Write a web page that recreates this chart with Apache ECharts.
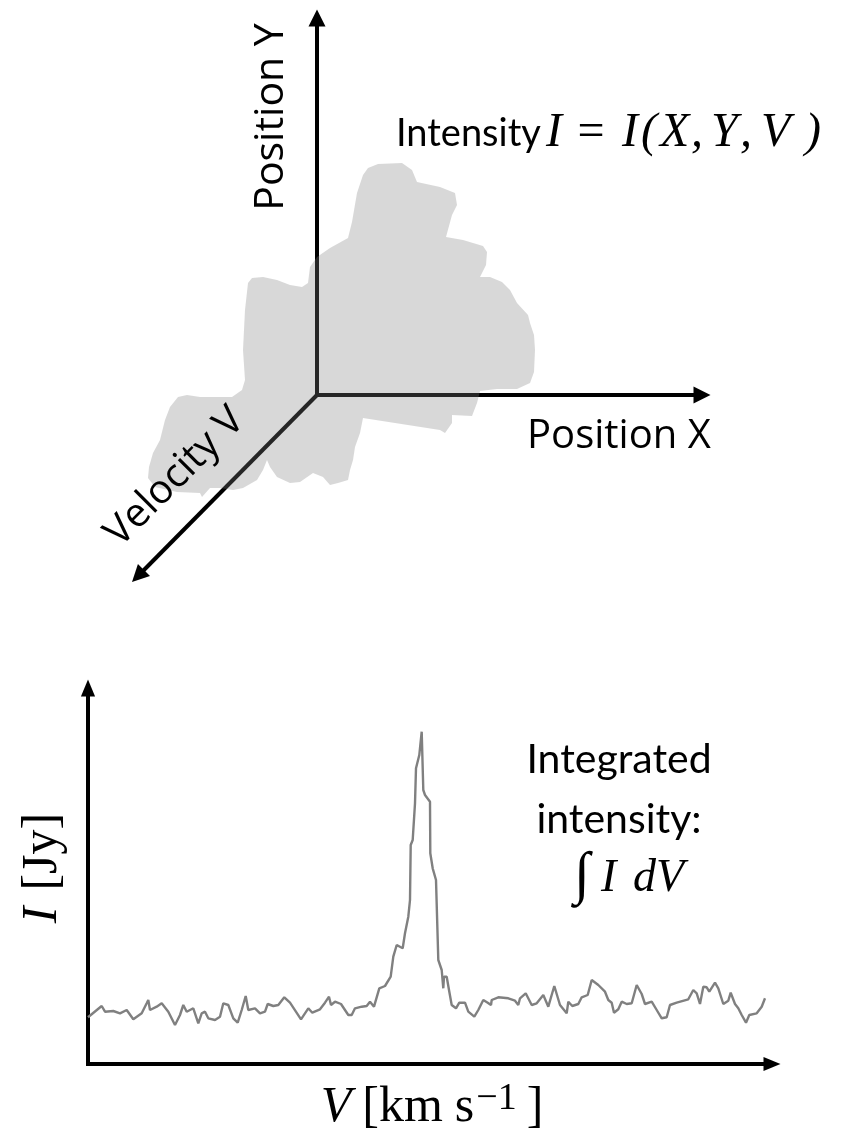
<!DOCTYPE html>
<html><head><meta charset="utf-8">
<script src="https://cdn.jsdelivr.net/npm/echarts@6/dist/echarts.min.js"></script>
<style>html,body{margin:0;padding:0;background:#fff}#c{width:851px;height:1134px}</style>
</head><body><div id="c"></div>
<script>
// ---- Spectrum (bottom panel): velocity [km/s, arbitrary zero] and intensity [Jy] ----
const velocity = [0.0,1.37,1.70,2.53,3.20,3.87,4.53,5.37,5.87,6.03,
6.20,6.87,7.37,8.03,8.70,9.20,9.53,9.87,10.53,11.03,
11.37,11.70,12.03,12.70,13.20,13.53,14.03,14.53,14.97,15.37,
15.77,16.03,16.70,17.20,17.70,17.97,18.53,19.03,19.63,20.20,
21.30,22.03,22.43,23.20,23.70,24.10,24.30,24.70,25.30,26.03,
26.37,26.70,27.37,27.87,28.20,28.60,29.13,29.70,30.27,30.53,
30.87,31.47,31.70,32.03,32.20,32.27,32.47,32.70,32.80,33.13,
33.37,33.53,33.70,34.20,34.23,34.47,34.80,35.03,35.37,35.53,
35.60,35.87,36.10,36.37,36.80,37.13,37.70,38.03,38.63,39.03,
39.53,39.97,40.30,40.37,41.03,42.03,42.70,43.03,43.20,43.77,
44.37,44.87,45.53,46.03,46.63,47.20,47.87,48.03,48.43,49.03,
49.37,49.97,50.37,51.03,51.70,52.03,52.37,52.60,53.03,53.37,
53.87,54.37,54.87,55.37,55.70,56.37,56.87,57.37,57.87,58.20,
58.87,60.03,60.53,60.87,61.20,61.53,61.87,62.13,62.70,63.03,
63.53,64.03,64.27,64.70,65.03,65.37,65.80,66.13,66.87,67.37,
67.70];
const intensity = [0.467,0.58,0.523,0.53,0.507,0.54,0.447,0.507,0.607,0.64,
0.54,0.573,0.607,0.523,0.39,0.49,0.59,0.523,0.557,0.407,
0.507,0.523,0.457,0.44,0.473,0.607,0.59,0.457,0.413,0.54,
0.68,0.54,0.557,0.507,0.523,0.60,0.58,0.59,0.667,0.613,
0.447,0.557,0.513,0.547,0.613,0.673,0.59,0.623,0.60,0.49,
0.49,0.557,0.573,0.58,0.623,0.573,0.757,0.78,0.873,1.073,
1.19,1.157,1.307,1.473,1.64,2.19,2.24,2.607,2.957,3.09,
3.323,2.74,2.69,2.623,2.107,1.957,1.84,1.04,0.94,0.757,
0.873,0.873,0.74,0.59,0.557,0.613,0.613,0.523,0.473,0.54,
0.64,0.613,0.59,0.64,0.667,0.657,0.633,0.59,0.657,0.707,
0.59,0.607,0.69,0.573,0.78,0.59,0.507,0.623,0.58,0.60,
0.667,0.69,0.84,0.79,0.723,0.64,0.613,0.513,0.547,0.623,
0.60,0.607,0.79,0.70,0.60,0.623,0.54,0.457,0.467,0.59,
0.613,0.647,0.74,0.707,0.60,0.773,0.767,0.723,0.813,0.757,
0.60,0.633,0.713,0.60,0.557,0.49,0.413,0.49,0.507,0.573,
0.657];

// ---- Cube sketch (top panel): emission blob outline in (Position X, Position Y) units ----
const blobX = [5.1,6.1,8.5,9.5,10.0,12.3,13.8,14.0,13.5,12.9,14.6,16.6,17.0,16.9,16.3,17.3,18.5,19.3,20.0,21.1,
21.3,21.7,21.8,21.7,21.3,20.0,18.0,16.3,16.0,15.5,13.5,13.5,12.8,12.3,4.6,4.3,3.8,3.6,3.3,3.1,
2.1,1.3,0.6,-0.4,-1.7,-2.7,-4.0,-4.7,-5.0,-5.4,-6.0,-7.4,-8.4,-9.7,-10.7,-11.5,-11.7,-14.0,-16.2,-16.9,
-16.8,-16.4,-15.7,-15.2,-14.7,-13.9,-13.0,-11.7,-8.5,-7.5,-7.2,-7.4,-7.2,-6.9,-6.5,-5.4,-4.0,-2.7,-1.5,-0.9,
-0.7,0.0,1.3,3.1,3.5,4.0,4.6];
const blobY = [22.7,23.1,23.2,22.5,21.3,20.8,20.2,19.0,18.0,15.8,15.5,14.9,14.3,13.0,11.8,11.8,11.3,10.5,9.2,8.0,
7.2,6.0,4.5,2.3,1.2,0.6,0.6,0.4,-0.8,-2.1,-2.0,-2.8,-3.8,-3.5,-2.3,-3.8,-5.2,-6.5,-7.5,-8.5,
-8.8,-9.0,-8.2,-7.8,-8.7,-8.8,-8.2,-7.2,-6.5,-7.5,-8.5,-9.3,-9.5,-9.3,-9.3,-10.2,-9.8,-9.7,-9.2,-8.3,
-7.2,-5.8,-4.5,-2.5,-1.2,-0.2,0.0,-0.2,-0.2,0.5,1.5,4.5,8.5,11.2,11.7,11.8,11.5,11.0,10.8,11.2,
12.8,13.8,14.7,15.7,17.3,20.2,22.0];
// the three cube axes: X, Y, V (end points, origin at 0,0)
const cubeAxisEndX = [38.5, 0, -17.9];
const cubeAxisEndY = [0, 37.7, -18.1];

const tri = 'path://M5,0L10,12L0,12Z';
const spectrum = velocity.map((v, i) => [v, intensity[i]]);

const chart = echarts.init(document.getElementById('c'), null, {renderer: 'canvas'});
const serif = '"Liberation Serif", "DejaVu Serif", serif';

function txt(x, y, text, font, align, rot) {
  return {type: 'text', x: x, y: y, rotation: rot || 0, z: 10,
    style: {text: text, font: font, fill: '#000', align: align || 'left', verticalAlign: 'middle'}};
}
const mI = 'italic 48px ' + serif;

chart.setOption({
  animation: false,
  backgroundColor: '#fff',
  grid: [
    {left: 88, right: 79, top: 688, bottom: 70},
    {left: 17, width: 800, top: 5, height: 760}
  ],
  xAxis: [
    {type: 'value', gridIndex: 0, min: 0, max: 68.4,
     axisLine: {show: true, onZero: false, symbol: ['none', tri], symbolSize: [15, 17],
       lineStyle: {color: '#000', width: 4, cap: 'square'}},
     axisTick: {show: false}, axisLabel: {show: false}, splitLine: {show: false}},
    {type: 'value', gridIndex: 1, min: -30, max: 50, show: false}
  ],
  yAxis: [
    {type: 'value', gridIndex: 0, min: 0, max: 3.76,
     axisLine: {show: true, onZero: false, symbol: ['none', tri], symbolSize: [15, 17],
       lineStyle: {color: '#000', width: 4, cap: 'square'}},
     axisTick: {show: false}, axisLabel: {show: false}, splitLine: {show: false}},
    {type: 'value', gridIndex: 1, min: -37, max: 39, show: false}
  ],
  series: [
    {type: 'line', xAxisIndex: 0, yAxisIndex: 0, data: spectrum, showSymbol: false,
     lineStyle: {color: '#808080', width: 2.4}, silent: true, z: 3},
    {type: 'lines', coordinateSystem: 'cartesian2d', xAxisIndex: 1, yAxisIndex: 1,
     symbol: ['none', tri], symbolSize: [15, 17],
     lineStyle: {color: '#000', width: 4, opacity: 1, curveness: 0},
     data: cubeAxisEndX.map((x, i) => ({coords: [[0, 0], [x, cubeAxisEndY[i]]]})), z: 2},
    {type: 'custom', xAxisIndex: 1, yAxisIndex: 1, data: [[0, 0]], z: 5, silent: true,
     renderItem: function (params, api) {
       const pts = blobX.map((x, i) => api.coord([x, blobY[i]]));
       return {type: 'polygon', shape: {points: pts}, style: {fill: 'rgba(127,127,127,0.3)'}};
     }}
  ],
  graphic: [
    txt(271, 117, 'Position Y', '41px "Open Sans"', 'center', Math.PI / 2),
    txt(527, 437, 'Position X', '40px "Open Sans"', 'left'),
    txt(175, 477, 'Velocity V', '40px "Open Sans"', 'center', Math.PI / 4),
    txt(396, 134, 'Intensity', '38px Lato', 'left'),
    txt(546, 133, 'I', mI, 'left'),
    txt(591, 133, '=', '48px ' + serif, 'center'),
    txt(622, 133, 'I', mI, 'left'),
    txt(641, 133, '(', mI, 'left'),
    txt(660, 133, 'X', mI, 'left'),
    txt(691, 133, ',', mI, 'left'),
    txt(711, 133, 'Y', mI, 'left'),
    txt(740, 133, ',', mI, 'left'),
    txt(761, 133, 'V', mI, 'left'),
    txt(805, 133, ')', mI, 'left'),
    txt(619, 760, 'Integrated', '41px Lato', 'center'),
    txt(619, 820, 'intensity:', '41px Lato', 'center'),
    txt(582, 877, '∫', '58px ' + serif, 'center'),
    txt(601, 879, 'I', 'italic 46px ' + serif, 'left'),
    txt(633, 879, 'dV', 'italic 46px ' + serif, 'left'),
    {type: 'text', x: 432, y: 1108, z: 10,
     style: {text: '{i|V}{r|[km}{r2|s}{s|−1}{r3|]}', align: 'center', verticalAlign: 'middle',
       rich: {
         i: {font: 'italic 50px ' + serif, fill: '#000', lineHeight: 56, padding: [0, 11, 0, 0]},
         r: {font: '50px ' + serif, fill: '#000', lineHeight: 56, padding: [0, 12, 0, 0]},
         r2: {font: '50px ' + serif, fill: '#000', lineHeight: 56, padding: [0, 2, 0, 0]},
         s: {font: '38px ' + serif, fill: '#000', lineHeight: 38, verticalAlign: 'top', padding: [0, 10, 0, 0]},
         r3: {font: '50px ' + serif, fill: '#000', lineHeight: 56}
       }}},
    {type: 'text', x: 43, y: 868, rotation: Math.PI / 2, z: 10,
     style: {text: '{i|I}{r|[Jy]}', align: 'center', verticalAlign: 'middle',
       rich: {
         i: {font: 'italic 50px ' + serif, fill: '#000', lineHeight: 56, padding: [0, 16, 0, 0]},
         r: {font: '50px ' + serif, fill: '#000', lineHeight: 56}
       }}}
  ]
});
</script></body></html>
